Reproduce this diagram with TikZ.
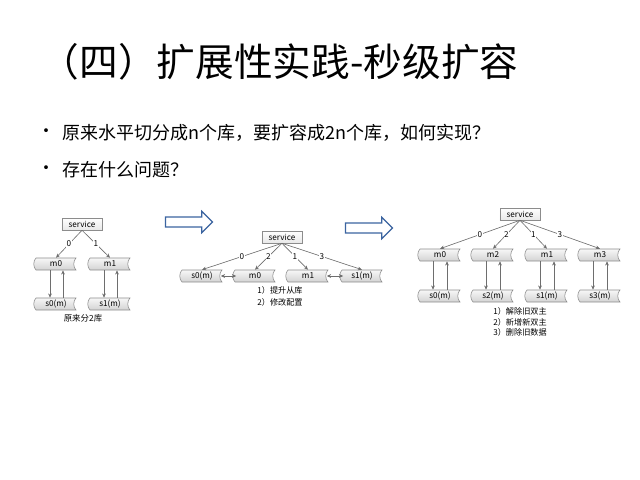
\documentclass[tikz,border=0pt]{standalone}
\usepackage{fontspec}
\setmainfont{Noto Sans CJK SC}
\usetikzlibrary{arrows.meta,positioning,calc,shapes.arrows}
\definecolor{edgegray}{HTML}{6E6E6E}
\definecolor{boxgray}{HTML}{8C8C8C}
\definecolor{arrowblue}{HTML}{3B64A0}
\tikzset{
  svc/.style={draw=boxgray,top color=white,bottom color=gray!18,minimum width=1cm,minimum height=0.3cm,inner sep=0pt,font=\fontsize{5.8}{6}\selectfont},
  dbtxt/.style={minimum width=1cm,minimum height=0.3cm,inner sep=0pt,font=\fontsize{5.8}{6}\selectfont},
  dbshape/.style={draw=boxgray,line width=0.4pt,top color=gray!6,bottom color=gray!35},
  arr/.style={-{Stealth[length=3pt,width=2.6pt]},draw=edgegray,line width=0.45pt},
  darr/.style={{Stealth[length=3pt,width=2.8pt]}-{Stealth[length=3pt,width=2.8pt]},draw=edgegray,line width=0.5pt,shorten <=-1pt,shorten >=-1pt},
  num/.style={fill=white,inner sep=0.5pt,font=\fontsize{5.8}{6}\selectfont},
  note/.style={align=left,font=\fontsize{5.8}{8}\selectfont},
  bigarrow/.style={single arrow,draw=arrowblue,fill=white,line width=0.9pt,inner xsep=0pt,inner ysep=0.11cm,single arrow head extend=0.14cm,minimum height=1.17cm},
}
% tape-like database box: name, centre, text
\newcommand{\dbnode}[3]{%
  \draw[dbshape] ($(#2)+(-20,-6)$) -- ++(40,0) .. controls +(-3,3) and +(-3,-3) .. ++(0,12) -- ++(-40,0) .. controls +(-3,-3) and +(-3,3) .. ++(0,-12) -- cycle;
  \node[dbtxt] (#1) at (#2) {#3};}

\begin{document}
\begin{tikzpicture}[x=0.025cm,y=-0.025cm]
  \useasboundingbox (0,0) rectangle (640,480);
  \node[anchor=west,font=\fontsize{27.5}{30}\selectfont] (title) at (36,62) {（四）扩展性实践-秒级扩容};
  \foreach \t/\y [count=\i] in {{原来水平切分成n个库，要扩容成2n个库，如何实现？}/133,{存在什么问题？}/170} {
    \node[anchor=west,font=\fontsize{12.8}{14}\selectfont] (dot\i) at (33,\y) {•};
    \node[anchor=west,font=\fontsize{12.8}{14}\selectfont] (item\i) at (58,\y) {\t};
  }

  % before: two shards
  \node[svc] (svcA) at (82,224) {service};
  \dbnode{aM0}{56,264}{m0}
  \dbnode{aM1}{110,264}{m1}
  \dbnode{aS0}{56,304}{s0(m)}
  \dbnode{aS1}{110,304}{s1(m)}
  \draw[arr] (svcA.south) -- node[num] {0} (aM0.north);
  \draw[arr] (svcA.south) -- node[num] {1} (aM1.north);
  \foreach \k in {0,1} {
    \draw[arr] ($(aM\k.south)+(-6,0)$) -- ($(aS\k.north)+(-6,0)$);
    \draw[arr] ($(aS\k.north)+(7,0)$) -- ($(aM\k.south)+(7,0)$);
  }
  \node[font=\fontsize{6}{7}\selectfont] (capA) at (83,318) {原来分2库};

  \node[bigarrow] (go1) at (186.5,222) {};

  % promote slaves
  \node[svc] (svcB) at (282,237) {service};
  \foreach \nm/\x/\t/\k in {bS0/202/s0(m)/0,bM0/255/m0/2,bM1/308/m1/1,bS1/362/s1(m)/3} {
    \dbnode{\nm}{\x,276}{\t}
    \draw[arr] (svcB.south) -- node[num] {\k} (\nm.north);
  }
  \draw[darr] (bS0.east) -- (bM0.west);
  \draw[darr] (bM1.east) -- (bS1.west);
  \node[note,font=\fontsize{5.8}{8.5}\selectfont] (noteB) at (280,296) {1）提升从库\\2）修改配置};

  \node[bigarrow] (go2) at (366.5,228) {};

  % after: four shards
  \node[svc] (svcC) at (520,214) {service};
  \foreach \k/\x in {0/440,2/493,1/547,3/600} {
    \dbnode{cM\k}{\x,255}{m\k}
    \dbnode{cS\k}{\x,296}{s\k(m)}
    \draw[arr] (svcC.south) -- node[num] {\k} (cM\k.north);
    \draw[arr] ($(cM\k.south)+(-7,0)$) -- ($(cS\k.north)+(-7,0)$);
    \draw[arr] ($(cS\k.north)+(7,0)$) -- ($(cM\k.south)+(7,0)$);
  }
  \node[note,font=\fontsize{5.8}{7.5}\selectfont] (noteC) at (520,322) {1）解除旧双主\\2）新增新双主\\3）删除旧数据};
\end{tikzpicture}
\end{document}
